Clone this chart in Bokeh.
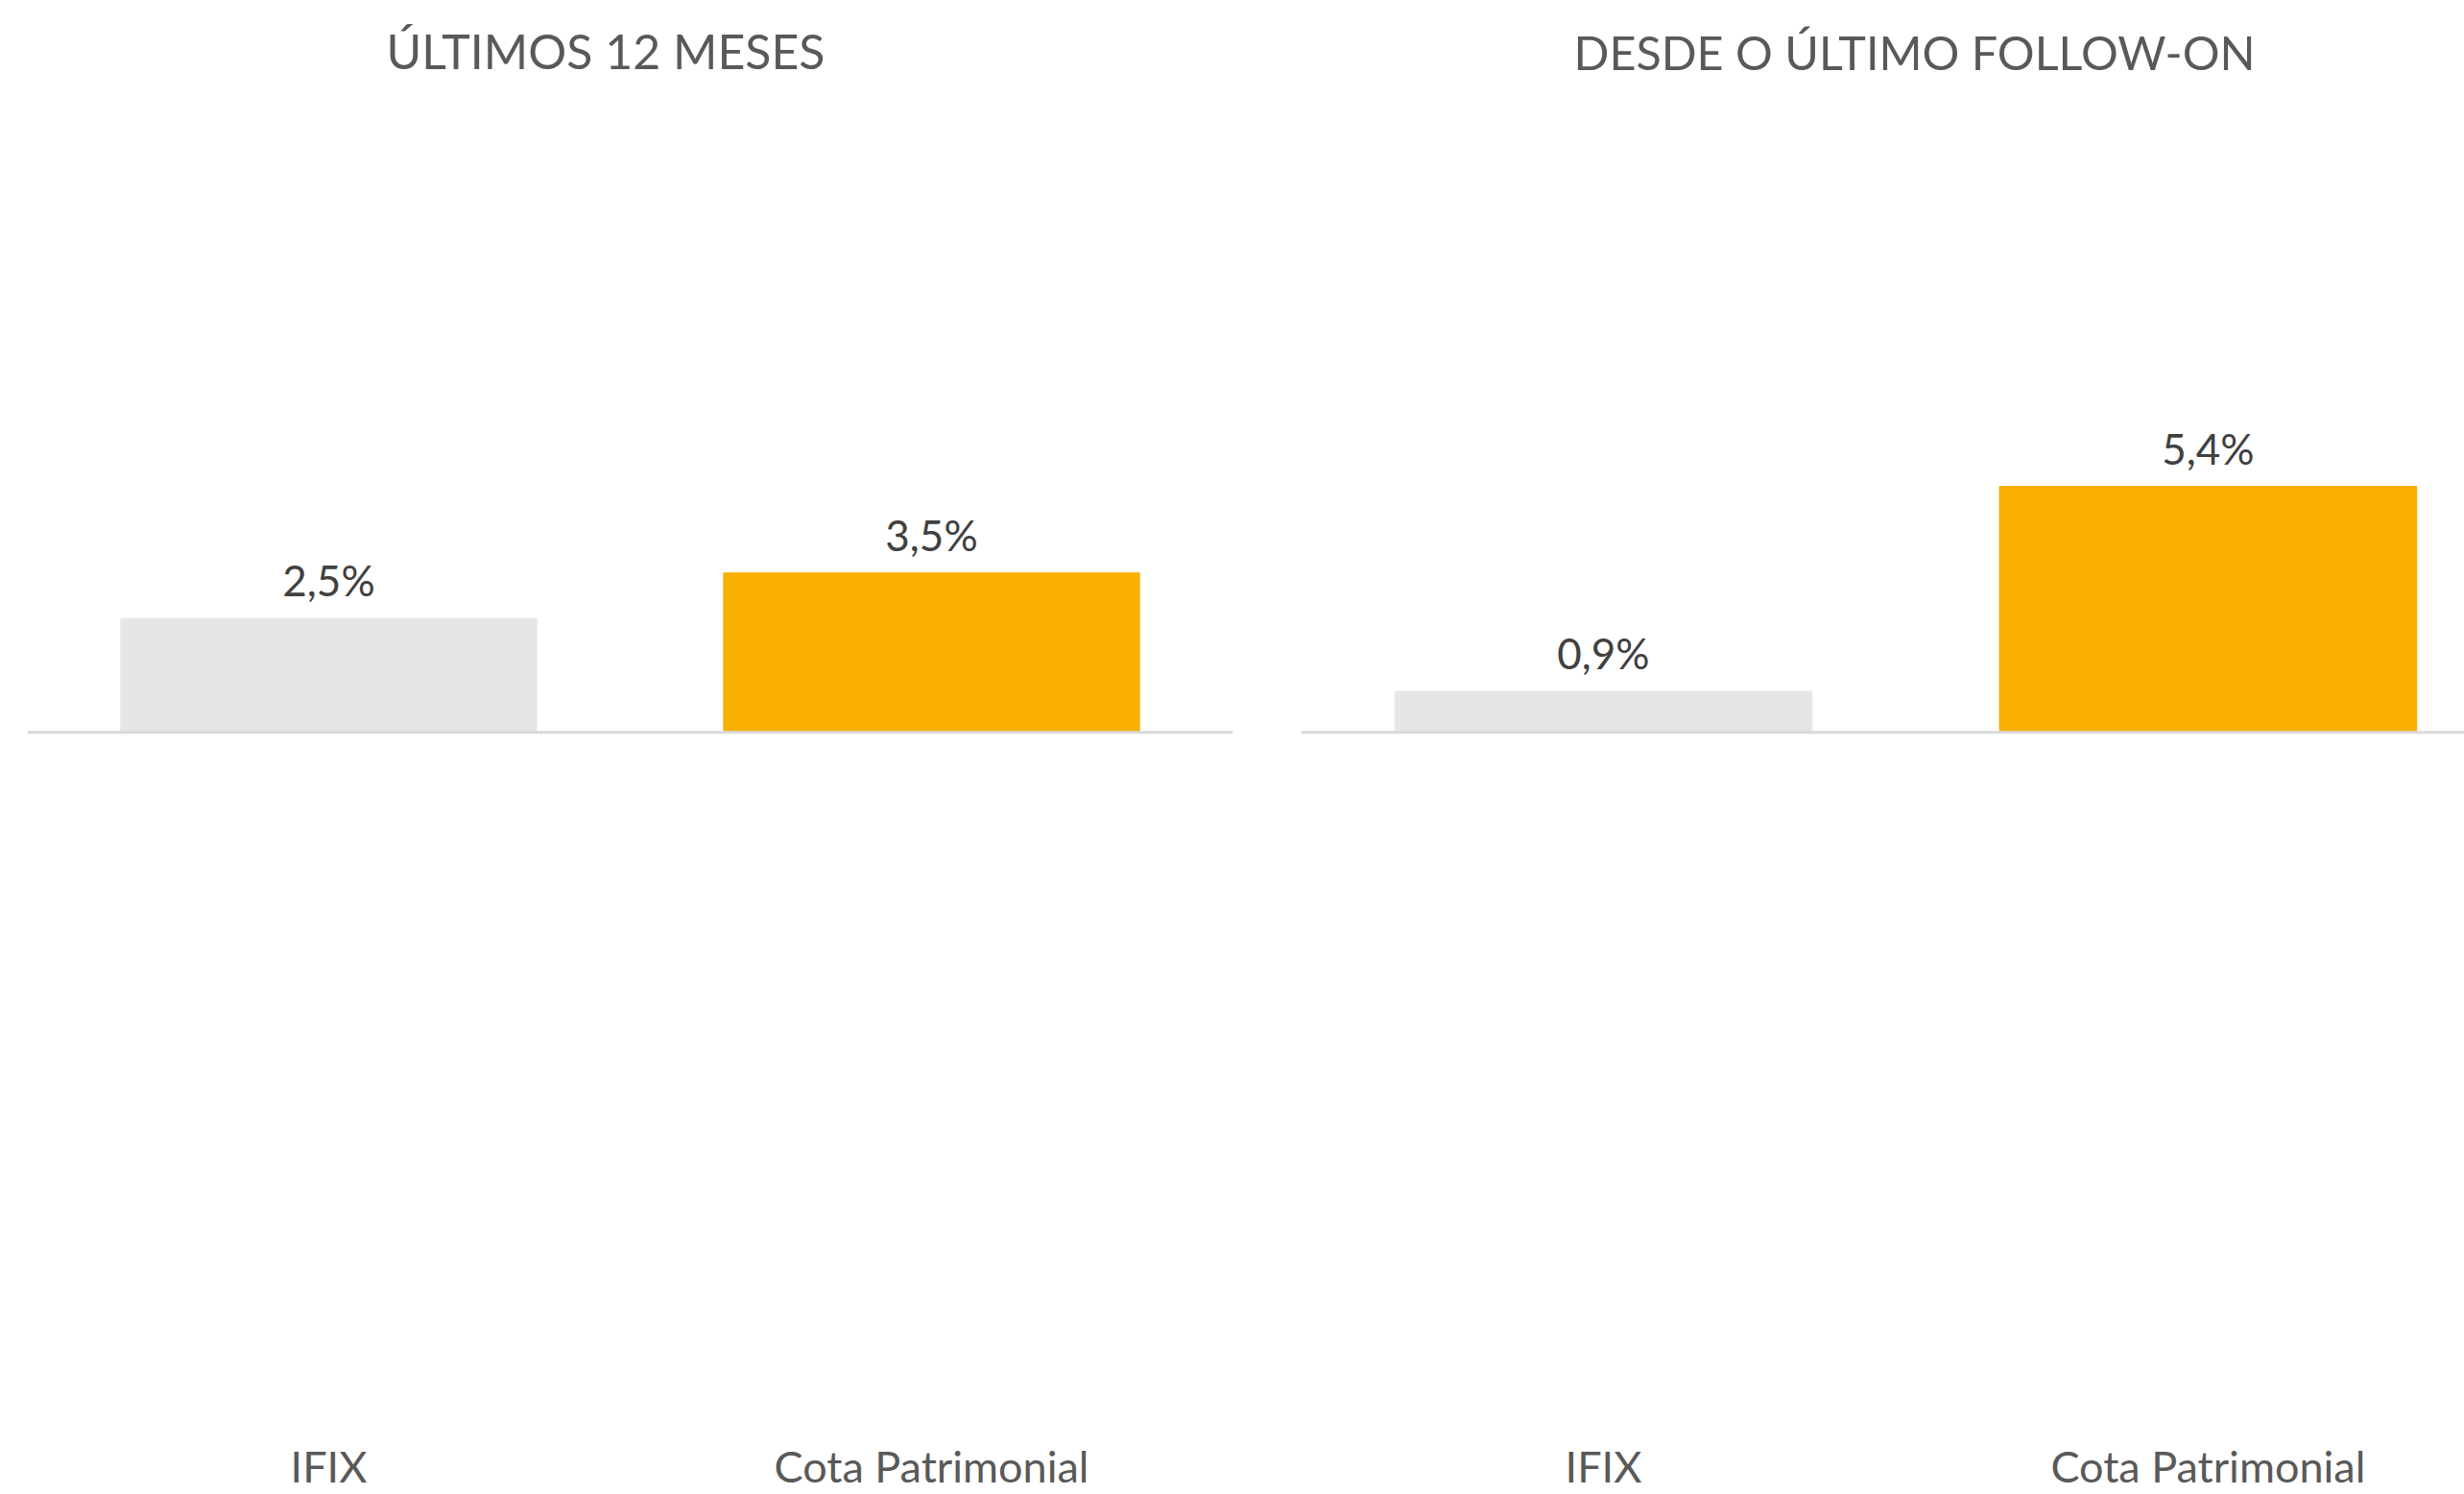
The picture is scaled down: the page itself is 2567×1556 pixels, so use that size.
from bokeh.plotting import figure
from bokeh.layouts import row
from bokeh.models import ColumnDataSource, Span, FixedTicker, Range1d
from bokeh.embed import file_html
from bokeh.resources import INLINE
from bokeh.core.properties import value

# ---- data ----
categories = ["IFIX", "Cota Patrimonial"]
values_12m = [2.5, 3.5]
values_follow_on = [0.9, 5.4]
titles = ["ÚLTIMOS 12 MESES", "DESDE O ÚLTIMO FOLLOW-ON"]
bar_colors = ["#E7E6E6", "#F9AF00"]

# ---- layout constants ----
FIG_H = 1556
Y_START, Y_END = -15.28, 14.13
FONT = "Lato"


def make_panel(title, vals, width, border_left, border_right, x_end,
               title_offset, title_size):
    pos = list(range(len(categories)))
    labels = [f"{v:.1f}".replace(".", ",") + "%" for v in vals]
    src = ColumnDataSource(dict(x=pos, top=vals, color=bar_colors, label=labels))
    p = figure(width=width, height=FIG_H, output_backend="svg", toolbar_location=None,
               x_range=Range1d(-0.5, x_end), y_range=Range1d(Y_START, Y_END),
               min_border_left=border_left, min_border_right=border_right,
               min_border_top=92, min_border_bottom=0)
    p.outline_line_color = None
    p.background_fill_color = "white"
    p.border_fill_color = "white"
    p.xgrid.visible = False
    p.ygrid.visible = False
    p.yaxis.visible = False

    p.title.text = title
    p.title.align = "left"
    p.title.offset = title_offset
    p.title.standoff = 20
    p.title.text_font = FONT
    p.title.text_font_size = title_size
    p.title.text_font_style = "normal"
    p.title.text_color = "#595959"

    ax = p.xaxis[0]
    ax.ticker = FixedTicker(ticks=pos)
    ax.major_label_overrides = {i: c for i, c in zip(pos, categories)}
    ax.axis_line_color = None
    ax.major_tick_line_color = None
    ax.minor_tick_line_color = None
    ax.major_label_standoff = 6
    ax.major_label_text_font = FONT
    ax.major_label_text_font_size = "45px"
    ax.major_label_text_color = "#595959"

    p.vbar(x="x", top="top", bottom=0, width=0.69, color="color", source=src)
    p.add_layout(Span(location=0, dimension="width", line_color="#D9D9D9", line_width=3))
    p.text(x="x", y="top", text="label", source=src, text_align="center",
           text_baseline="bottom", y_offset=-14, text_font=value(FONT),
           text_font_size="44px", text_color="#404040")
    return p


p1 = make_panel(titles[0], values_12m, 1320, 28, 36, 1.5, 374, "50px")
p2 = make_panel(titles[1], values_follow_on, 1247, 35, 0, 1.424, 284, "48.5px")

layout = row(p1, p2)
open("out.html", "w").write(file_html(layout, INLINE))
